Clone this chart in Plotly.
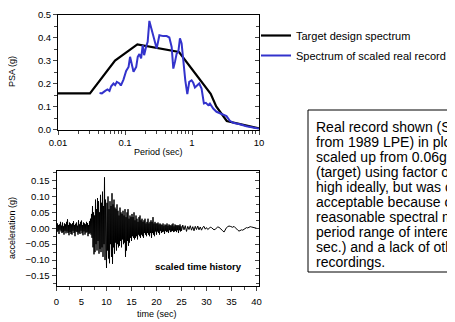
import numpy as np
import plotly.graph_objects as go

# ---------------- data ----------------
# Target design spectrum (period s, PSA g)
target_period = [0.01, 0.03, 0.071, 0.153, 0.64, 1.0, 1.5, 1.9, 2.3, 3.3, 10.0]
target_psa = [0.157, 0.157, 0.300, 0.370, 0.337, 0.262, 0.197, 0.155, 0.100, 0.037, 0.005]

# Spectrum of scaled real record
record_period = [0.0417, 0.0452, 0.0506, 0.0548, 0.0587, 0.0622, 0.0673, 0.0713, 0.0755, 0.0828,
                 0.0867, 0.0949, 0.104, 0.113, 0.119, 0.126, 0.134, 0.147, 0.155, 0.164,
                 0.174, 0.184, 0.193, 0.206, 0.218, 0.231, 0.251, 0.272, 0.297, 0.326,
                 0.373, 0.419, 0.459, 0.497, 0.526, 0.557, 0.590, 0.625, 0.661, 0.700,
                 0.741, 0.794, 0.851, 0.910, 0.986, 1.044, 1.106, 1.197, 1.282, 1.389,
                 1.505, 1.611, 1.746, 1.849, 2.072, 2.324, 2.605, 2.918, 3.273, 3.670,
                 4.115, 5.167, 6.490, 8.16, 10.0]
record_psa = [0.159, 0.157, 0.168, 0.174, 0.168, 0.188, 0.200, 0.193, 0.207, 0.200,
              0.191, 0.217, 0.255, 0.272, 0.316, 0.280, 0.251, 0.272, 0.316, 0.328,
              0.309, 0.367, 0.323, 0.359, 0.381, 0.472, 0.432, 0.403, 0.352, 0.410,
              0.406, 0.406, 0.400, 0.359, 0.265, 0.294, 0.330, 0.338, 0.396, 0.374,
              0.294, 0.214, 0.154, 0.207, 0.214, 0.203, 0.183, 0.193, 0.200, 0.178,
              0.113, 0.116, 0.106, 0.113, 0.091, 0.077, 0.070, 0.062, 0.058, 0.038,
              0.029, 0.023, 0.014, 0.009, 0.003]

# Scaled time history: 0-25 s sampled every 0.1 s, 25-40 s every 0.25 s
accel_0_25 = [
    0.005, -0.012, 0.015, -0.008, 0.010, -0.018, 0.012, -0.005, 0.020, -0.010,
    0.008, -0.015, 0.018, -0.012, 0.006, -0.020, 0.015, -0.008, 0.012, -0.016,
    0.020, -0.010, 0.028, -0.015, 0.010, -0.022, 0.018, -0.012, 0.015, -0.018,
    0.012, -0.020, 0.016, -0.008, 0.022, -0.015, 0.010, -0.025, 0.014, -0.010,
    0.018, -0.012, 0.008, -0.020, 0.025, -0.014, 0.012, -0.018, 0.020, -0.008,
    0.024, -0.016, 0.010, -0.022, 0.018, -0.010, 0.015, -0.020, 0.012, -0.014,
    0.020, -0.012, 0.016, -0.025, 0.010, -0.018, 0.022, -0.015, 0.030, -0.020,
    0.045, -0.030, 0.070, -0.060, 0.050, -0.082, 0.040, -0.075, 0.090, -0.050,
    0.060, -0.070, 0.095, -0.040, 0.085, -0.080, 0.050, -0.065, 0.105, -0.075,
    0.080, -0.060, 0.115, -0.090, 0.070, -0.050, 0.160, -0.100, 0.090, -0.060,
    -0.125, 0.080, -0.070, 0.100, -0.095, 0.060, -0.110, 0.085, -0.050, 0.070,
    -0.090, 0.110, -0.112, 0.075, -0.060, 0.090, -0.080, 0.065, -0.045, 0.060,
    -0.070, 0.075, -0.050, 0.055, -0.060, 0.040, -0.055, 0.065, -0.040, 0.050,
    -0.060, 0.045, -0.035, 0.055, -0.050, 0.040, -0.045, 0.060, -0.090, 0.035,
    -0.070, 0.050, -0.040, 0.060, -0.055, 0.030, -0.045, 0.040, -0.030, 0.035,
    -0.040, 0.045, -0.025, 0.035, -0.030, 0.050, -0.035, 0.025, -0.030, 0.040,
    -0.025, 0.030, -0.035, 0.020, -0.020, 0.035, -0.025, 0.040, -0.030, 0.025,
    -0.020, 0.030, -0.025, 0.020, -0.030, 0.025, -0.015, 0.030, -0.020, 0.015,
    -0.025, 0.020, -0.015, 0.030, -0.020, 0.015, -0.025, 0.020, -0.015, 0.025,
    -0.030, 0.020, -0.015, 0.035, -0.020, 0.015, -0.025, 0.020, -0.010, 0.015,
    -0.020, 0.015, -0.010, 0.018, -0.015, 0.012, -0.020, 0.015, -0.008, 0.012,
    -0.015, 0.010, -0.012, 0.015, -0.010, 0.008, -0.018, 0.012, -0.008, 0.010,
    -0.012, 0.015, -0.010, 0.008, -0.015, 0.012, -0.006, 0.010, -0.012, 0.008,
    -0.010, 0.012, -0.008, 0.015, -0.012, 0.006, -0.010, 0.012, -0.008, 0.010,
    -0.012, 0.008, -0.006, 0.010, -0.015, 0.008, -0.006, 0.012, -0.010, 0.006,
]
accel_25_40 = [
    -0.008, 0.010, -0.005, 0.008, -0.010, 0.006, -0.004, 0.008,
    -0.006, 0.005, -0.008, 0.006, -0.004, 0.007, -0.005, 0.004,
    -0.006, 0.003, 0.006, -0.003, 0.002, -0.004, 0.001, 0.003,
    0.002, -0.002, -0.005, -0.003, 0.002, 0.004, 0.003, 0.000,
    -0.003, -0.008, -0.012, -0.004, 0.002, 0.005, 0.007, 0.006,
    0.004, 0.003, 0.006, 0.001, -0.003, -0.006, -0.009, -0.007,
    -0.005, -0.006, -0.003, 0.000, 0.002, 0.001, 0.003, 0.005,
    0.004, 0.003, 0.002, 0.001, 0.000,
]
time_0_25 = np.round(np.arange(len(accel_0_25)) * 0.1, 2)
time_25_40 = np.round(25.0 + np.arange(len(accel_25_40)) * 0.25, 2)
time_s = list(time_0_25) + list(time_25_40)
accel_g = accel_0_25 + accel_25_40

spectrum_ticks = [0.01, 0.1, 1, 10]
spectrum_ticklabels = ["0.01", "0.1", "1", "10"]

# note text as visible in the picture (the box runs off the right edge)
note_lines = [
    "Real record shown (S",
    "from 1989 LPE) in plo",
    "scaled up from 0.06g",
    "(target) using factor o",
    "high ideally, but was c",
    "acceptable because o",
    "reasonable spectral m",
    "period range of intere",
    "sec.) and a lack of oth",
    "recordings.",
]

# ---------------- layout helpers ----------------
# The page body keeps an 8 px margin, so the figure is sized to end at the
# window edge and positions are given in window pixels.
OFF = 8
W, H = 455 - OFF, 322 - OFF
FONT = "Arial, Liberation Sans, sans-serif"


def px_x(p):
    return (p - OFF) / W


def px_y(p):
    return 1 - (p - OFF) / H


fig = go.Figure()

fig.add_trace(go.Scatter(x=target_period, y=target_psa, mode="lines",
                         line=dict(color="black", width=2.2),
                         name="Target design spectrum", legendgroup="a",
                         xaxis="x", yaxis="y"))
fig.add_trace(go.Scatter(x=record_period, y=record_psa, mode="lines",
                         line=dict(color="#3333cc", width=2),
                         name="Spectrum of scaled real record", legendgroup="b",
                         xaxis="x", yaxis="y"))
fig.add_trace(go.Scatter(x=time_s, y=accel_g, mode="lines",
                         line=dict(color="black", width=1),
                         showlegend=False, xaxis="x2", yaxis="y2"))
# carriers for the right-hand inside tick axes
fig.add_trace(go.Scatter(x=[], y=[], xaxis="x", yaxis="y3", showlegend=False))
fig.add_trace(go.Scatter(x=[], y=[], xaxis="x2", yaxis="y4", showlegend=False))

tickfont = dict(family=FONT, size=9.5, color="black")
axline = dict(showline=True, linecolor="black", linewidth=1, showgrid=False,
              zeroline=False, automargin=False)

top_dom_x = [px_x(58), px_x(259)]
top_dom_y = [px_y(129.5), px_y(14.5)]
bot_dom_x = [px_x(56.5), px_x(259)]
bot_dom_y = [px_y(285.5), px_y(171)]

fig.update_layout(
    template="none",
    width=W, height=H,
    margin=dict(l=0, r=0, t=0, b=0, autoexpand=False),
    paper_bgcolor="white", plot_bgcolor="white",
    font=dict(family=FONT, size=9, color="black"),
    xaxis=dict(type="log", range=[-2, 1], domain=top_dom_x, anchor="y",
               tickvals=spectrum_ticks, ticktext=spectrum_ticklabels,
               ticks="outside", ticklen=4, tickfont=tickfont, mirror=True,
               minor=dict(ticks="outside", ticklen=3, dtick="D1", showgrid=False),
               **axline),
    yaxis=dict(range=[0, 0.5], domain=top_dom_y, anchor="x",
               dtick=0.1, tickformat=".1f", ticks="outside", ticklen=4,
               tickfont=tickfont, mirror=True,
               minor=dict(ticks="outside", ticklen=3, dtick=0.05, showgrid=False),
               **axline),
    yaxis3=dict(range=[0, 0.5], overlaying="y", side="right", anchor="x",
                dtick=0.1, ticks="inside", ticklen=4, showticklabels=False,
                showline=False, showgrid=False, zeroline=False, automargin=False,
                minor=dict(ticks="inside", ticklen=3, dtick=0.05, showgrid=False)),
    xaxis2=dict(range=[0, 40.5], domain=bot_dom_x, anchor="y2",
                dtick=5, ticks="outside", ticklen=4, tickfont=tickfont, mirror=True,
                ticklabelstandoff=3,
                minor=dict(ticks="outside", ticklen=3, dtick=2.5, showgrid=False),
                **axline),
    yaxis2=dict(range=[-0.18, 0.18], domain=bot_dom_y, anchor="x2",
                dtick=0.05, tickformat=".2f", ticks="outside", ticklen=4,
                tickfont=tickfont, mirror=True,
                minor=dict(ticks="outside", ticklen=3, dtick=0.025, showgrid=False),
                **axline),
    yaxis4=dict(range=[-0.18, 0.18], overlaying="y2", side="right", anchor="x2",
                dtick=0.05, ticks="inside", ticklen=4, showticklabels=False,
                showline=False, showgrid=False, zeroline=False, automargin=False,
                minor=dict(ticks="inside", ticklen=3, dtick=0.025, showgrid=False)),
    legend=dict(x=px_x(256), y=px_y(21), xanchor="left", yanchor="top",
                font=dict(family=FONT, size=11, color="black"),
                bgcolor="rgba(0,0,0,0)", traceorder="grouped", tracegroupgap=1,
                itemwidth=30),
    showlegend=True,
)

annotations = [
    dict(text="PSA (g)", x=px_x(12), y=px_y(72), textangle=-90),
    dict(text="Period (sec)", x=px_x(158), y=px_y(152)),
    dict(text="acceleration (g)", x=px_x(12), y=px_y(228), textangle=-90),
    dict(text="time (sec)", x=px_x(157), y=px_y(314)),
    dict(text="<b>scaled time history</b>", x=px_x(198), y=px_y(266),
         font=dict(family=FONT, size=9.5, color="black")),
]
for i, line in enumerate(note_lines):
    annotations.append(dict(text=line, x=px_x(314), y=px_y(127 + 15 * i), xanchor="left",
                            font=dict(family=FONT, size=14, color="black")))
for a in annotations:
    a.setdefault("xref", "paper")
    a.setdefault("yref", "paper")
    a.setdefault("xanchor", "center")
    a.setdefault("yanchor", "middle")
    a.setdefault("showarrow", False)
    a.setdefault("font", dict(family=FONT, size=9, color="black"))
fig.update_layout(annotations=annotations)

fig.add_shape(type="rect", xref="paper", yref="paper",
              x0=px_x(308), x1=px_x(470), y0=px_y(272), y1=px_y(110),
              line=dict(color="black", width=1), fillcolor="rgba(0,0,0,0)")

fig.write_html("out.html")
